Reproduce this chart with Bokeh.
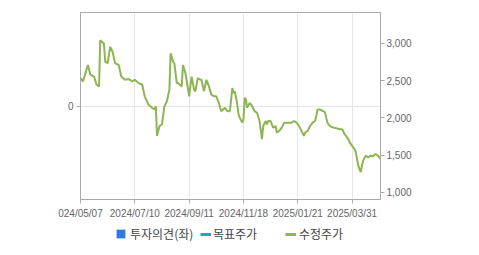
from bokeh.plotting import figure
from bokeh.layouts import column
from bokeh.models import (Range1d, LinearAxis, FixedTicker, NumeralTickFormatter,
                          Legend, LegendItem)
from bokeh.embed import file_html
from bokeh.resources import INLINE

# trading-day index and adjusted close (수정주가)
day_idx = [0, 2, 6, 8, 11, 13, 15, 16, 19, 20, 22, 24, 26, 28, 31, 33, 36, 39, 42, 44,
           47, 50, 52, 55, 58, 60, 61, 62, 64, 66, 68, 70, 72, 73, 75, 76, 78, 79, 82, 83,
           85, 87, 88, 90, 92, 93, 95, 97, 98, 100, 102, 104, 106, 108, 110, 112, 114, 117,
           119, 121, 123, 124, 125, 127, 128, 129, 131, 132, 133, 134, 135, 137, 139, 141,
           143, 145, 147, 148, 150, 151, 152, 154, 156, 158, 159, 161, 163, 165, 167, 169,
           171, 173, 175, 177, 179, 181, 182, 184, 186, 188, 190, 191, 192, 194, 195, 198,
           200, 202, 205, 208, 210, 212, 214, 217, 218, 220, 222, 223, 225, 226, 227, 228,
           229, 231, 233, 235, 237, 239, 241, 243]
adj_price = [2535, 2490, 2711, 2580, 2555, 2445, 2423, 3044, 3000, 2755, 2734, 2955, 2888,
             2734, 2711, 2555, 2512, 2521, 2490, 2512, 2467, 2445, 2290, 2179, 2135, 2113,
             2157, 1758, 1891, 1913, 2157, 2223, 2379, 2867, 2755, 2734, 2467, 2467, 2423,
             2711, 2600, 2401, 2290, 2555, 2379, 2356, 2535, 2512, 2512, 2356, 2512, 2423,
             2312, 2290, 2290, 2202, 2090, 2135, 2090, 2090, 2401, 2335, 2356, 2179, 2046,
             2002, 1936, 1980, 2268, 2246, 2135, 2202, 2157, 2090, 2069, 1958, 1714, 1891,
             1958, 1913, 1958, 1958, 1869, 1891, 1803, 1825, 1869, 1936, 1936, 1936, 1936,
             1958, 1936, 1891, 1825, 1758, 1803, 1825, 1891, 1936, 1958, 2024, 2113, 2113,
             2104, 2077, 1936, 1891, 1869, 1856, 1847, 1847, 1780, 1714, 1670, 1625, 1581,
             1537, 1359, 1315, 1271, 1359, 1425, 1492, 1470, 1492, 1483, 1514, 1492, 1448]

x_ticks = [0, 44, 88, 132, 176, 220]
x_labels = ["024/05/07", "2024/07/10", "2024/09/11", "2024/11/18", "2025/01/21", "2025/03/31"]
price_ticks = [1000, 1500, 2000, 2500, 3000]
opinion_ticks = [0]
legend_labels = ["투자의견(좌)", "목표주가", "수정주가"]
NAN = float("nan")

GRAY = "#aaaaaa"
TXT = "#666666"
FONT = "Liberation Sans"
C_OPINION = "#2f7bd9"
C_TARGET = "#25a6b3"
C_PRICE = "#8db552"

p = figure(width=479, height=221, output_backend="svg", toolbar_location=None,
           x_range=Range1d(0, 243), y_range=Range1d(-1, 1),
           min_border_left=80, min_border_right=99, min_border_top=12, min_border_bottom=20)
p.extra_y_ranges = {"price": Range1d(903, 3416)}
p.outline_line_color = GRAY
p.outline_line_width = 1
p.background_fill_color = "white"
p.border_fill_color = "white"

# x axis
xa = p.xaxis[0]
xa.ticker = FixedTicker(ticks=x_ticks)
xa.major_label_overrides = {t: l for t, l in zip(x_ticks, x_labels)}
xa.minor_tick_line_color = None
xa.axis_line_color = GRAY
xa.major_tick_line_color = GRAY
xa.major_tick_out = 4
xa.major_tick_in = 0
xa.major_label_text_font = FONT
xa.major_label_text_font_size = "10px"
xa.major_label_text_color = TXT
xa.major_label_standoff = 4

# left axis (투자의견)
ya = p.yaxis[0]
ya.ticker = FixedTicker(ticks=opinion_ticks)
ya.minor_tick_line_color = None
ya.axis_line_color = GRAY
ya.major_tick_line_color = GRAY
ya.major_tick_out = 4
ya.major_tick_in = 0
ya.major_label_text_font = FONT
ya.major_label_text_font_size = "10px"
ya.major_label_text_color = TXT
ya.major_label_standoff = 3

# right axis (price)
ra = LinearAxis(y_range_name="price", ticker=FixedTicker(ticks=price_ticks),
                formatter=NumeralTickFormatter(format="0,0"))
ra.minor_tick_line_color = None
ra.axis_line_color = GRAY
ra.major_tick_line_color = GRAY
ra.major_tick_out = 4
ra.major_tick_in = 0
ra.major_label_text_font = FONT
ra.major_label_text_font_size = "10px"
ra.major_label_text_color = TXT
ra.major_label_standoff = 2
p.add_layout(ra, "right")

p.xgrid.grid_line_color = "#e6e6e6"
p.ygrid.grid_line_color = "#e6e6e6"

p.line(day_idx, adj_price, y_range_name="price", line_color=C_PRICE, line_width=2)

# legend strip (its frame is aligned with the chart frame: x 80..380)
q = figure(width=479, height=34, output_backend="svg", toolbar_location=None,
           x_range=Range1d(0, 1), y_range=Range1d(0, 1),
           min_border_left=80, min_border_right=99, min_border_top=0, min_border_bottom=0)
q.axis.visible = False
q.grid.visible = False
q.outline_line_color = None
q.border_fill_color = "white"

l_op = q.quad(left=[NAN], right=[NAN], top=[NAN], bottom=[NAN],
              fill_color=C_OPINION, line_color=None)
l_tp = q.line([NAN], [NAN], line_color=C_TARGET, line_width=3)
l_px = q.line([NAN], [NAN], line_color=C_PRICE, line_width=3)

def make_legend(label, rend, x, standoff, gh):
    lg = Legend(items=[LegendItem(label=label, renderers=[rend])], location=(x, 13),
                orientation="horizontal", padding=0, margin=0, spacing=0,
                glyph_width=11, glyph_height=gh, label_standoff=standoff,
                label_text_font="Noto Sans CJK KR", label_text_font_size="12px",
                label_text_color="#444444", label_height=14,
                border_line_color=None, background_fill_alpha=0)
    q.add_layout(lg, "center")

make_legend(legend_labels[0], l_op, 35, 4, 11)
make_legend(legend_labels[1], l_tp, 120, 2, 14)
make_legend(legend_labels[2], l_px, 205, 3, 14)

open("out.html", "w").write(file_html(column(p, q, spacing=0), INLINE))
